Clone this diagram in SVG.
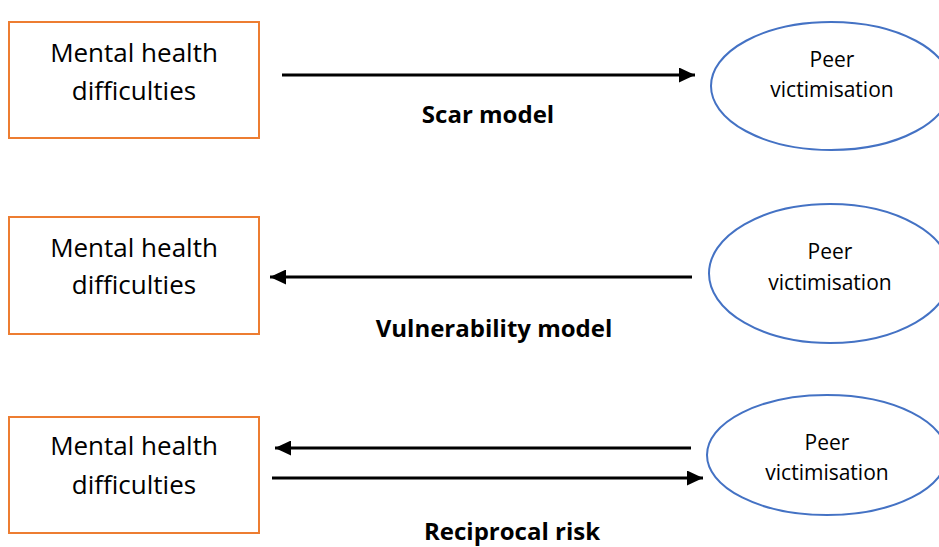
<svg xmlns="http://www.w3.org/2000/svg" width="939" height="547" viewBox="0 0 939 547">
  <style>
    .box { fill: #ffffff; stroke: #ED7D31; stroke-width: 2; }
    .oval { fill: #ffffff; stroke: #4472C4; stroke-width: 2; }
    .boxtext { font-family: "Open Sans", "Liberation Sans", sans-serif; font-size: 26px; fill: #000; text-anchor: middle; }
    .ovaltext { font-family: "Open Sans", "Liberation Sans", sans-serif; font-size: 21px; fill: #000; text-anchor: middle; }
    .label { font-family: "Open Sans", "Liberation Sans", sans-serif; font-size: 24px; font-weight: bold; fill: #000; text-anchor: middle; }
    .conn { stroke: #000; stroke-width: 3; fill: none; }
  </style>
  <defs>
    <marker id="head" viewBox="0 0 16 15" refX="16" refY="7.5" markerWidth="16" markerHeight="15" markerUnits="userSpaceOnUse" orient="auto">
      <path d="M0,0 L16,7.5 L0,15 Z" fill="#000"/>
    </marker>
  </defs>
  <rect width="939" height="547" fill="#ffffff"/>

  <!-- Row 1: scar model -->
  <g id="mh1">
    <rect class="box" x="9" y="22" width="250" height="116"/>
    <text class="boxtext" x="134" y="62">Mental health</text>
    <text class="boxtext" x="134" y="100">difficulties</text>
  </g>
  <g id="pv1">
    <ellipse class="oval" cx="831" cy="86" rx="120" ry="64"/>
    <text class="ovaltext" x="832" y="67">Peer</text>
    <text class="ovaltext" x="832" y="97">victimisation</text>
  </g>

  <!-- Row 2: vulnerability model -->
  <g id="mh2">
    <rect class="box" x="9" y="217" width="250" height="117"/>
    <text class="boxtext" x="134" y="257">Mental health</text>
    <text class="boxtext" x="134" y="294">difficulties</text>
  </g>
  <g id="pv2">
    <ellipse class="oval" cx="830" cy="273.5" rx="121" ry="69.5"/>
    <text class="ovaltext" x="830" y="259">Peer</text>
    <text class="ovaltext" x="830" y="290">victimisation</text>
  </g>

  <!-- Row 3: reciprocal risk -->
  <g id="mh3">
    <rect class="box" x="9" y="417" width="250" height="116"/>
    <text class="boxtext" x="134" y="455">Mental health</text>
    <text class="boxtext" x="134" y="494">difficulties</text>
  </g>
  <g id="pv3">
    <ellipse class="oval" cx="827" cy="455" rx="120" ry="60"/>
    <text class="ovaltext" x="827" y="450">Peer</text>
    <text class="ovaltext" x="827" y="480">victimisation</text>
  </g>

  <!-- Connectors -->
  <g id="connectors">
    <line class="conn" x1="282" y1="75" x2="695" y2="75" marker-end="url(#head)"/>
    <line class="conn" x1="692" y1="277" x2="270" y2="277" marker-end="url(#head)"/>
    <line class="conn" x1="691" y1="448" x2="275" y2="448" marker-end="url(#head)"/>
    <line class="conn" x1="272" y1="478" x2="703" y2="478" marker-end="url(#head)"/>
  </g>

  <!-- Model labels -->
  <g id="labels">
    <text class="label" x="488" y="123">Scar model</text>
    <text class="label" x="494" y="337">Vulnerability model</text>
    <text class="label" x="512" y="540">Reciprocal risk</text>
  </g>
</svg>
